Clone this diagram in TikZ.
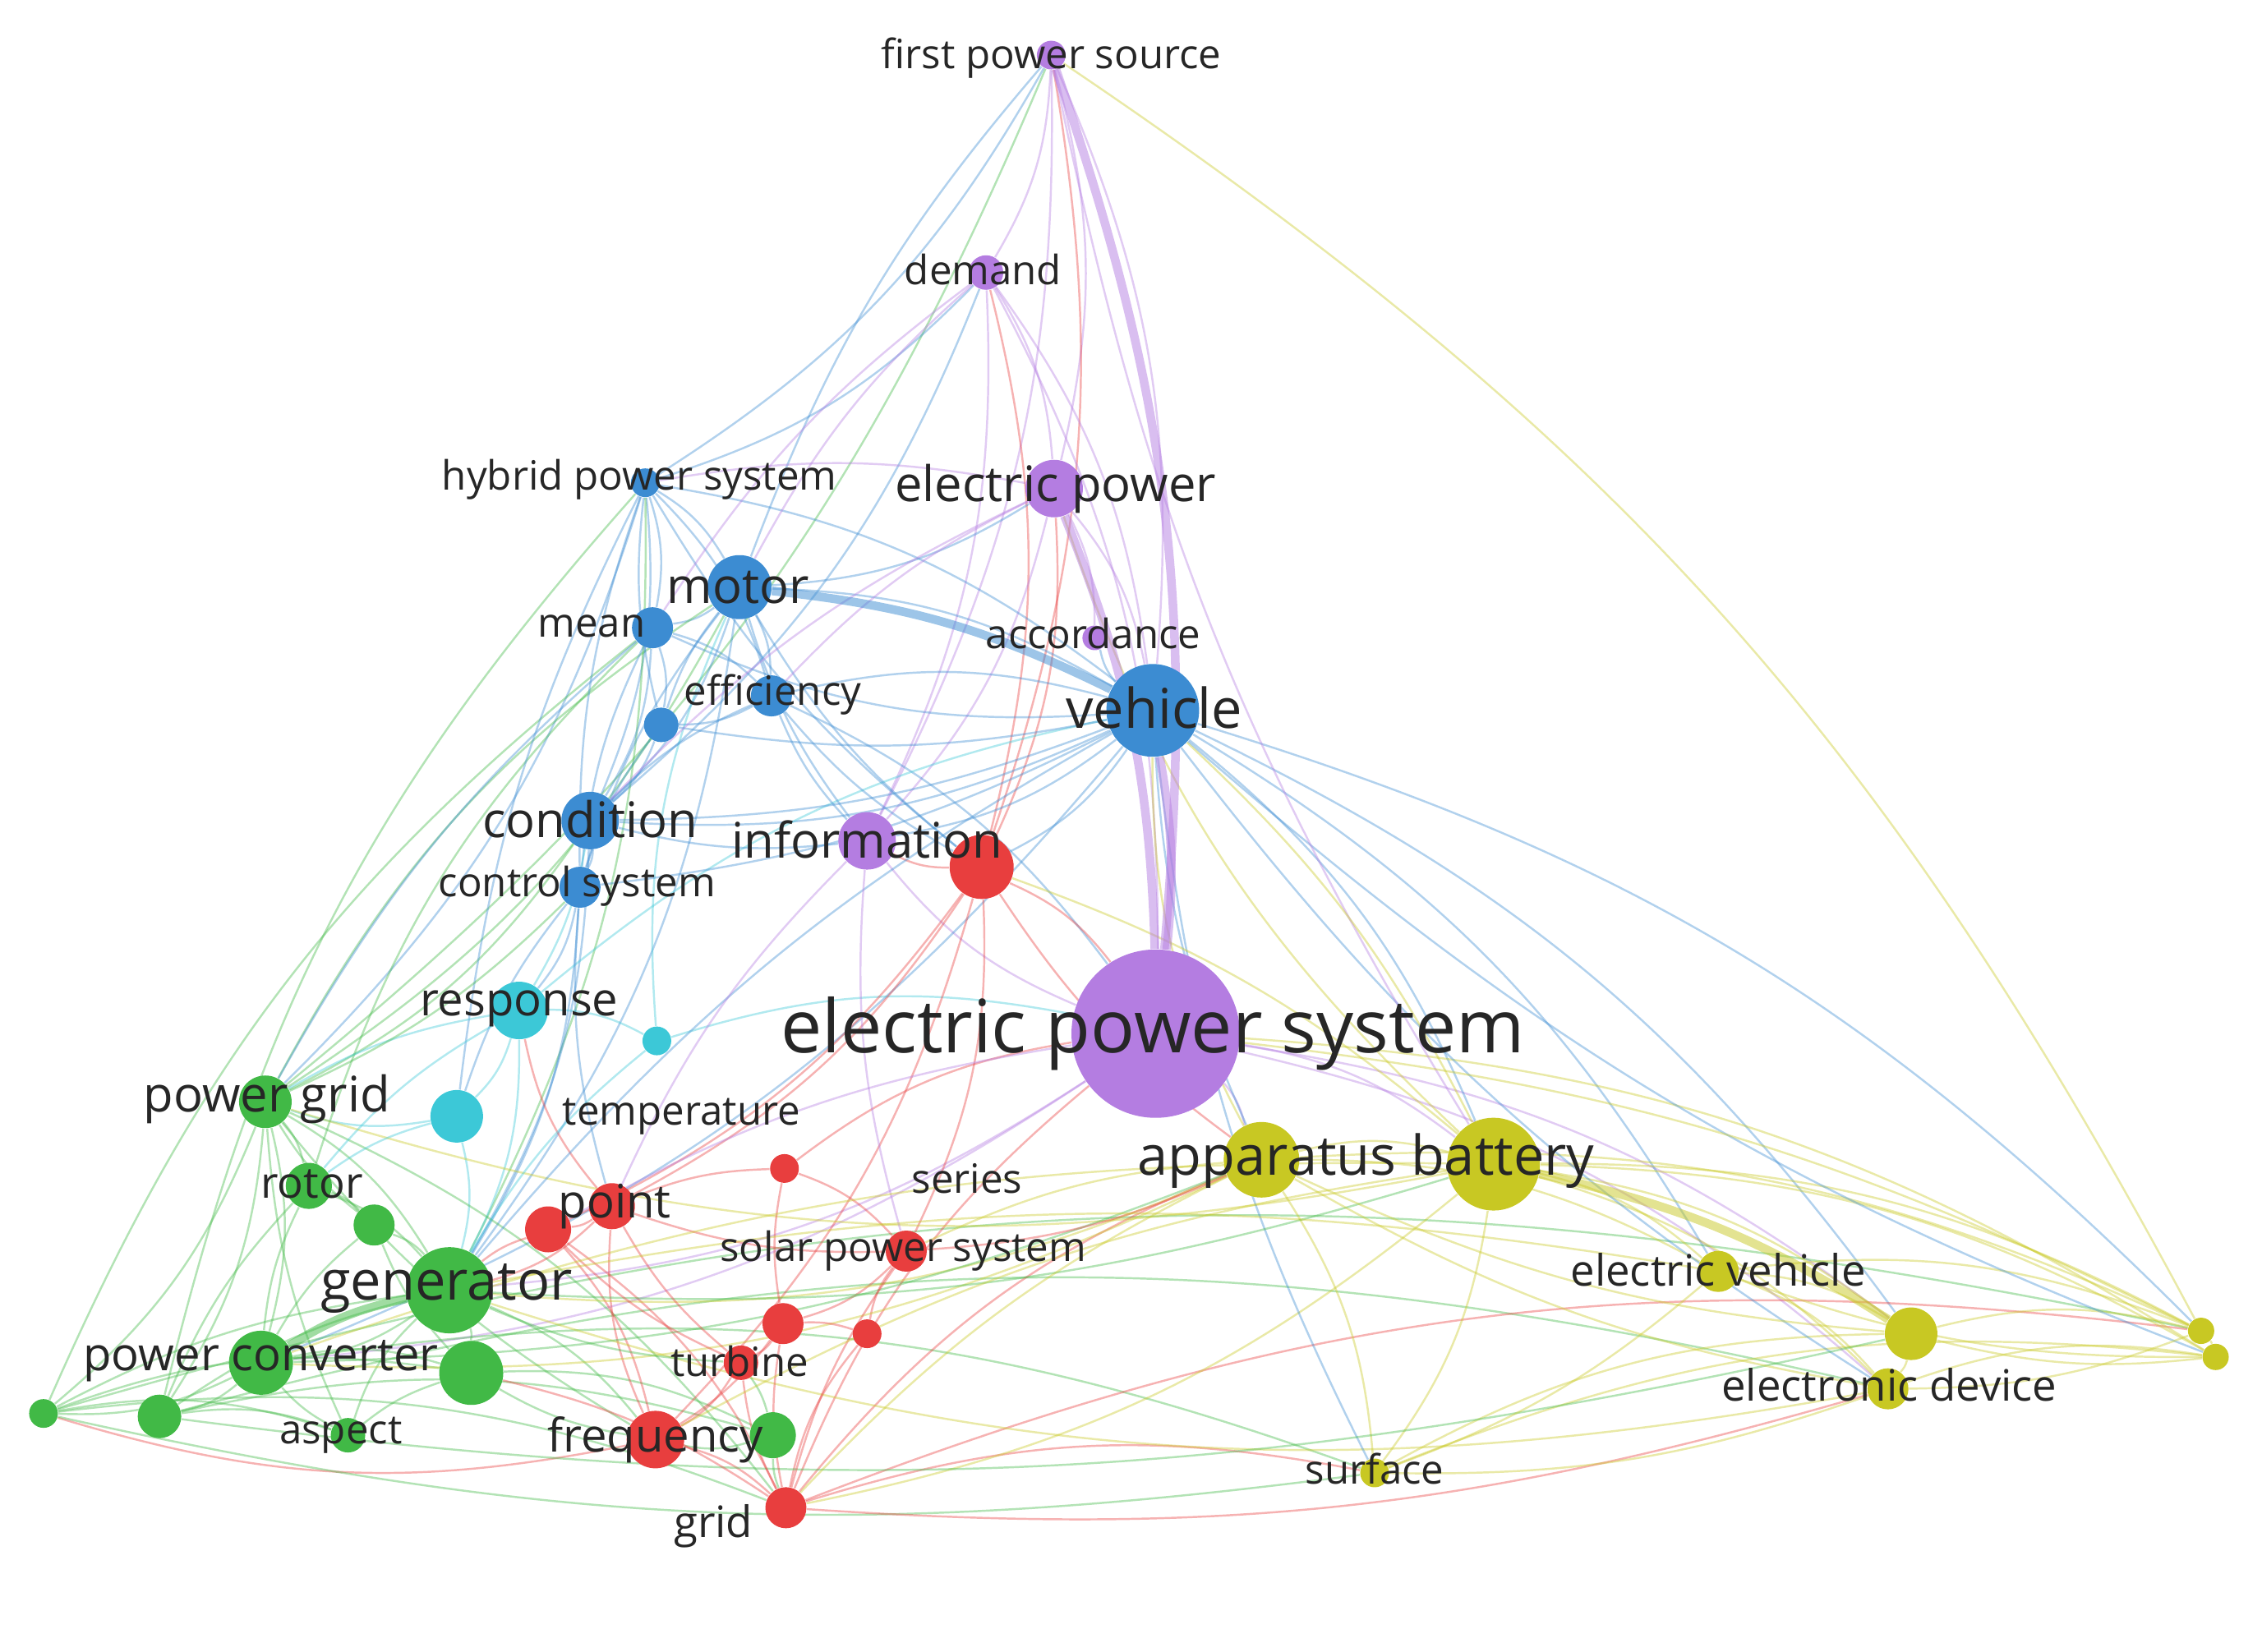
\documentclass[tikz,border=0pt]{standalone}
\usepackage{fontspec}
\setmainfont{Open Sans}
\usetikzlibrary{positioning}
\pgfdeclarelayer{background}
\pgfsetlayers{background,main}
\definecolor{cPur}{RGB}{180,125,225}
\definecolor{cBlu}{RGB}{60,140,210}
\definecolor{cCya}{RGB}{60,200,215}
\definecolor{cGre}{RGB}{65,185,70}
\definecolor{cRed}{RGB}{232,62,62}
\definecolor{cYel}{RGB}{200,200,35}

\begin{document}
\begin{tikzpicture}[
  x=0.017647cm, y=-0.017657cm,
  dot/.style={circle, fill=#1, inner sep=0pt},
  lab/.style={inner sep=0pt, text=black!85},
  fs/.style={font=\fontsize{#1}{#1}\selectfont},
  edge/.style={line width=0.7pt, opacity=0.4, draw=#1},
  heavy/.style={line width=3pt, opacity=0.5, draw=#1}
]
\useasboundingbox (0,0) rectangle (1560,1139);

% ================= NODES =================
\node[dot=cPur, minimum size=0.35cm] (fps) at (725,38) {};
\node[dot=cPur, minimum size=0.42cm] (dem) at (680,188) {};
\node[dot=cPur, minimum size=0.70cm] (ep) at (727,337) {};
\node[dot=cPur, minimum size=0.30cm] (acc) at (755,440) {};
\node[dot=cPur, minimum size=0.70cm] (info) at (598,580) {};
\node[dot=cPur, minimum size=2.05cm] (eps) at (797,713) {};
\node[dot=cBlu, minimum size=1.13cm] (veh) at (795,490) {};
\node[dot=cBlu, minimum size=0.35cm] (hps) at (445,333) {};
\node[dot=cBlu, minimum size=0.78cm] (mot) at (510,405) {};
\node[dot=cBlu, minimum size=0.50cm] (mea) at (450,433) {};
\node[dot=cBlu, minimum size=0.50cm] (eff) at (532,480) {};
\node[dot=cBlu, minimum size=0.42cm] (b1) at (456,500) {};
\node[dot=cBlu, minimum size=0.70cm] (cond) at (407,566) {};
\node[dot=cBlu, minimum size=0.50cm] (cs) at (400,612) {};
\node[dot=cCya, minimum size=0.70cm] (resp) at (358,697) {};
\node[dot=cCya, minimum size=0.35cm] (c1) at (453,718) {};
\node[dot=cCya, minimum size=0.64cm] (c2) at (315,770) {};
\node[dot=cGre, minimum size=0.64cm] (pg) at (183,760) {};
\node[dot=cGre, minimum size=0.56cm] (rot) at (213,818) {};
\node[dot=cGre, minimum size=0.50cm] (g1) at (258,845) {};
\node[dot=cGre, minimum size=1.05cm] (gen) at (310,890) {};
\node[dot=cGre, minimum size=0.78cm] (pc) at (180,940) {};
\node[dot=cGre, minimum size=0.78cm] (g2) at (325,947) {};
\node[dot=cGre, minimum size=0.35cm] (g3) at (30,975) {};
\node[dot=cGre, minimum size=0.53cm] (g4) at (110,977) {};
\node[dot=cGre, minimum size=0.42cm] (asp) at (240,990) {};
\node[dot=cGre, minimum size=0.56cm] (g5) at (533,990) {};
\node[dot=cRed, minimum size=0.78cm] (r1) at (677,598) {};
\node[dot=cRed, minimum size=0.56cm] (pt) at (422,832) {};
\node[dot=cRed, minimum size=0.56cm] (r2) at (378,848) {};
\node[dot=cRed, minimum size=0.35cm] (r3) at (541,806) {};
\node[dot=cRed, minimum size=0.50cm] (sps) at (625,863) {};
\node[dot=cRed, minimum size=0.50cm] (r4) at (540,913) {};
\node[dot=cRed, minimum size=0.35cm] (r5) at (598,920) {};
\node[dot=cRed, minimum size=0.42cm] (tur) at (511,940) {};
\node[dot=cRed, minimum size=0.70cm] (freq) at (452,993) {};
\node[dot=cRed, minimum size=0.50cm] (grid) at (542,1040) {};
\node[dot=cYel, minimum size=0.92cm] (ab1) at (870,800) {};
\node[dot=cYel, minimum size=1.13cm] (ab2) at (1030,803) {};
\node[dot=cYel, minimum size=0.50cm] (ev) at (1185,877) {};
\node[dot=cYel, minimum size=0.64cm] (y2) at (1318,920) {};
\node[dot=cYel, minimum size=0.50cm] (ed) at (1302,958) {};
\node[dot=cYel, minimum size=0.32cm] (y3) at (1518,918) {};
\node[dot=cYel, minimum size=0.32cm] (y4) at (1528,936) {};
\node[dot=cYel, minimum size=0.35cm] (sur) at (948,1016) {};

% ================= LABELS =================
\node[lab, fs=14] (fps-l) at (725,40) {first power source};
\node[lab, fs=14] (dem-l) at (678,186) {demand};
\node[lab, fs=17] (ep-l) at (728,337) {electric power};
\node[lab, fs=14] (acc-l) at (754,437) {accordance};
\node[lab, fs=19] (veh-l) at (796,488) {vehicle};
\node[lab, fs=14] (hps-l) at (441,331) {hybrid power system};
\node[lab, fs=17] (mot-l) at (509,405) {motor};
\node[lab, fs=14] (mea-l) at (408,432) {mean};
\node[lab, fs=14] (eff-l) at (533,479) {efficiency};
\node[lab, fs=17] (cond-l) at (407,565) {condition};
\node[lab, fs=14] (cs-l) at (398,611) {control system};
\node[lab, fs=17] (info-l) at (598,579) {information};
\node[lab, fs=16] (resp-l) at (358,696) {response};
\node[lab, fs=25.5] (eps-l) at (795,713) {electric power system};
\node[lab, fs=17] (pg-l) at (184,758) {power grid};
\node[lab, fs=14] (temp-l) at (470,770) {temperature};
\node[lab, fs=19] (ab-l) at (942,801) {apparatus battery};
\node[lab, fs=15] (rot-l) at (215,817) {rotor};
\node[lab, fs=16] (pt-l) at (424,832) {point};
\node[lab, fs=14] (ser-l) at (667,813) {series};
\node[lab, fs=14] (sps-l) at (623,863) {solar power system};
\node[lab, fs=19] (gen-l) at (308,889) {generator};
\node[lab, fs=15] (ev-l) at (1185,876) {electric vehicle};
\node[lab, fs=16] (pc-l) at (180,939) {power converter};
\node[lab, fs=14] (tur-l) at (510,939) {turbine};
\node[lab, fs=15] (ed-l) at (1303,955) {electronic device};
\node[lab, fs=14] (asp-l) at (235,990) {aspect};
\node[lab, fs=16] (freq-l) at (452,993) {frequency};
\node[lab, fs=14] (sur-l) at (948,1013) {surface};
\node[lab, fs=15] (grid-l) at (492,1053) {grid};

% ================= EDGES =================
\begin{pgfonlayer}{background}
\foreach \a/\b/\c in {
  fps/dem/cPur, fps/ep/cPur, fps/veh/cPur, fps/hps/cBlu, fps/pg/cGre,
  fps/info/cPur, fps/y3/cYel, fps/r1/cRed, dem/ep/cPur, dem/info/cPur,
  dem/eps/cPur, dem/veh/cPur, dem/hps/cBlu, dem/r1/cRed, dem/cond/cBlu,
  ep/veh/cPur, ep/info/cPur, ep/acc/cPur, ep/mot/cBlu, ep/r1/cRed,
  eps/info/cPur, eps/ab1/cPur, eps/ab2/cPur, eps/ed/cPur, eps/gen/cPur,
  eps/y2/cPur, eps/pc/cPur,
  hps/mot/cBlu, hps/mea/cBlu, hps/cond/cBlu, hps/pg/cBlu, hps/veh/cBlu,
  hps/eff/cBlu, hps/gen/cGre, mot/mea/cBlu, mot/eff/cBlu, mot/veh/cBlu,
  mot/cond/cBlu, mot/gen/cBlu, mot/pg/cGre, mea/eff/cBlu, mea/b1/cBlu,
  mea/cond/cBlu, eff/veh/cBlu, eff/b1/cBlu, eff/eps/cBlu, b1/cond/cBlu,
  cond/cs/cBlu, cond/gen/cBlu, cond/pg/cGre, cs/resp/cBlu, cs/gen/cBlu,
  veh/ab2/cBlu, veh/ev/cBlu, veh/y2/cBlu, veh/info/cBlu, veh/r1/cBlu,
  veh/pc/cBlu, veh/y3/cBlu, veh/acc/cBlu, veh/cond/cBlu, veh/mea/cBlu,
  resp/c1/cCya, resp/c2/cCya, c2/pg/cCya, c1/eps/cCya, resp/gen/cCya,
  c2/gen/cCya, resp/veh/cCya, c1/mot/cCya,
  pg/rot/cGre, pg/gen/cGre, pg/pc/cGre, pg/g3/cGre, pg/g4/cGre,
  rot/gen/cGre, rot/g1/cGre, g1/gen/cGre, gen/pc/cGre, gen/g2/cGre,
  pc/g2/cGre, pc/g3/cGre, pc/g4/cGre, g4/asp/cGre, g3/asp/cGre,
  asp/gen/cGre, gen/freq/cGre, g5/freq/cGre, g2/g5/cGre, pg/grid/cGre,
  g3/grid/cGre, g4/ed/cGre, g3/y3/cGre, pc/sur/cGre, rot/mea/cGre,
  g3/g2/cGre, g4/g5/cGre, g3/mea/cGre, g4/hps/cGre, pg/mot/cGre,
  r1/info/cRed, r1/pt/cRed, r1/sps/cRed, r1/eps/cRed, pt/r2/cRed,
  pt/gen/cRed, r3/sps/cRed, sps/r4/cRed, r4/tur/cRed, tur/freq/cRed,
  freq/grid/cRed, grid/r5/cRed, r5/sps/cRed, grid/ab1/cRed, grid/y3/cRed,
  freq/pt/cRed, r2/grid/cRed, r3/eps/cRed, grid/eps/cRed, pt/resp/cRed,
  r1/freq/cRed, r1/r2/cRed, r2/freq/cRed, grid/sur/cRed, freq/g3/cRed,
  ab1/ab2/cYel, ab2/ev/cYel, ab2/y2/cYel, ab2/ed/cYel, ab2/y3/cYel,
  ab2/y4/cYel, ev/y2/cYel, ev/ed/cYel, y2/ed/cYel, y2/y3/cYel,
  ed/y4/cYel, ab1/sur/cYel, ab2/sur/cYel, ab1/ev/cYel, y3/y4/cYel,
  eps/y4/cYel, ab1/y3/cYel, sur/y2/cYel, ab1/gen/cYel, ab2/pg/cYel,
  ab1/pc/cYel, ab2/grid/cYel, ev/y3/cYel, ab1/veh/cYel, sur/y4/cYel,
  ed/gen/cYel, ab2/ep/cYel}
  \draw[edge=\c] (\a) to[bend left=14] (\b);
% second pass, curving the other way
\foreach \a/\b/\c in {
  hps/b1/cBlu, hps/cs/cBlu, hps/r1/cBlu, hps/c2/cBlu, mot/b1/cBlu,
  mot/cs/cBlu, mot/r1/cBlu, mot/info/cBlu, mea/cs/cBlu, mea/pg/cBlu,
  eff/cond/cBlu, eff/r1/cBlu, eff/info/cBlu, b1/veh/cBlu, b1/cs/cBlu,
  cond/veh/cBlu, cond/info/cBlu, cs/veh/cBlu, cs/c2/cBlu, cs/pt/cBlu,
  veh/ab1/cBlu, veh/ed/cBlu, veh/sur/cBlu, veh/y4/cBlu, veh/gen/cBlu,
  fps/mot/cBlu, fps/ab2/cPur, dem/mot/cPur, dem/mea/cPur, ep/eff/cPur,
  ep/hps/cPur, ep/cond/cPur, info/sps/cPur, info/pt/cPur, eps/r2/cPur,
  resp/pg/cCya, resp/rot/cCya, c1/gen/cCya, c2/rot/cCya, resp/cond/cCya,
  pg/g1/cGre, pg/asp/cGre, pg/freq/cGre, pg/cs/cGre, rot/pc/cGre,
  rot/g4/cGre, g1/g2/cGre, g1/pc/cGre, gen/g4/cGre, gen/g3/cGre,
  gen/tur/cGre, g2/asp/cGre, g2/freq/cGre, pc/asp/cGre, g5/grid/cGre,
  g5/tur/cGre, g3/sur/cGre, g4/y2/cGre, pc/ab1/cGre, gen/ab2/cGre,
  pt/sps/cRed, pt/tur/cRed, r2/gen/cRed, r2/tur/cRed, r3/pt/cRed,
  r3/r4/cRed, sps/ab1/cRed, sps/grid/cRed, r4/grid/cRed, r5/r4/cRed,
  freq/r4/cRed, grid/g2/cRed, tur/grid/cRed, r1/ab1/cRed, grid/ed/cRed,
  ab1/ed/cYel, ab1/y2/cYel, ab2/veh/cYel, ab2/r1/cYel, ev/y4/cYel,
  ed/y3/cYel, sur/ed/cYel, sur/ev/cYel, y2/y4/cYel, ab1/grid/cYel,
  ab2/pc/cYel, ab2/freq/cYel, ab1/sps/cYel, ev/gen/cYel, y3/eps/cYel}
  \draw[edge=\c] (\a) to[bend right=10] (\b);
\draw[heavy=cPur] (fps) to[bend left=12] (eps);
\draw[heavy=cPur] (ep) to[bend left=10] (eps);
\draw[heavy=cPur] (veh) to[bend left=8] (eps);
\draw[heavy=cYel] (ab2) to[bend left=10] (y2);
\draw[heavy=cGre] (pc) to[bend left=10] (gen);
\draw[heavy=cBlu] (mot) to[bend left=10] (veh);
\end{pgfonlayer}
\end{tikzpicture}
\end{document}
